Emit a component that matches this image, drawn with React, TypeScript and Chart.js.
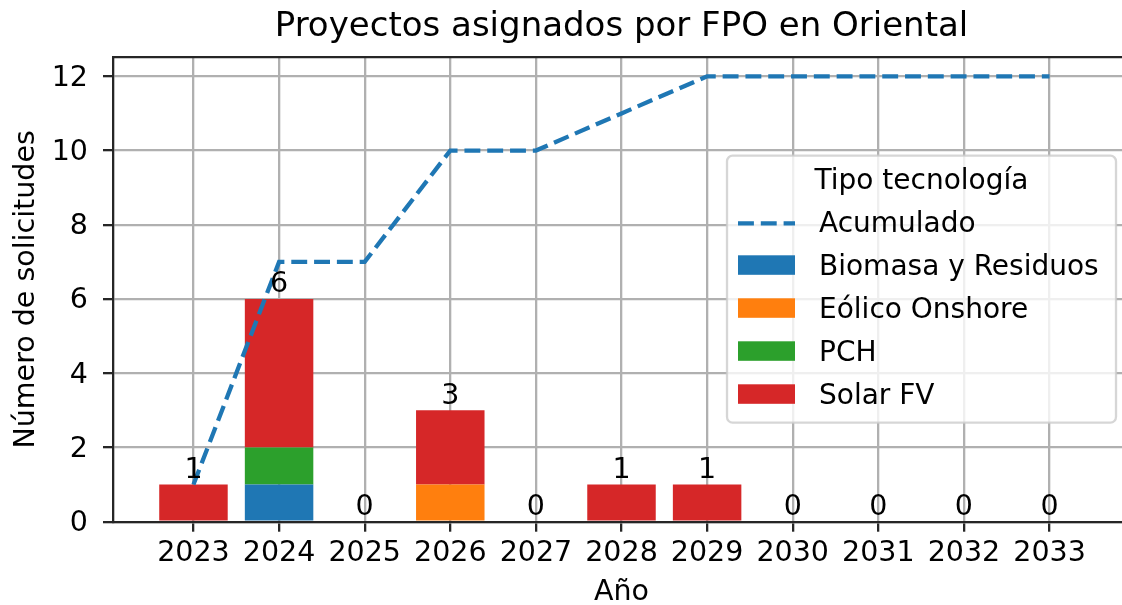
import React, { useEffect, useRef } from "react";
import { Chart, registerables } from "chart.js";

Chart.register(...registerables);

// ---- data ----
const years = [2023, 2024, 2025, 2026, 2027, 2028, 2029, 2030, 2031, 2032, 2033];
const biomasa = [0, 1, 0, 0, 0, 0, 0, 0, 0, 0, 0];
const eolico = [0, 0, 0, 1, 0, 0, 0, 0, 0, 0, 0];
const pch = [0, 1, 0, 0, 0, 0, 0, 0, 0, 0, 0];
const solar = [1, 4, 0, 2, 0, 1, 1, 0, 0, 0, 0];
const acumulado = [1, 7, 7, 10, 10, 11, 12, 12, 12, 12, 12];
const yTicks = [0, 2, 4, 6, 8, 10, 12];

const chartTitle = "Proyectos asignados por FPO en Oriental";
const xTitle = "Año";
const yTitle = "Número de solicitudes";
const legendTitle = "Tipo tecnología";
const lineName = "Acumulado";
const barNames = ["Biomasa y Residuos", "Eólico Onshore", "PCH", "Solar FV"];
const barSeries = [biomasa, eolico, pch, solar];
const barColors = ["#1f77b4", "#ff7f0e", "#2ca02c", "#d62728"];
const lineColor = "#1f77b4";

// ---- styling ----
const FONT = "'DejaVu Sans', sans-serif";
const W = 1145;
const H = 610;
const TICK = 28.5;
const SPINE = "#262626";
const GRID = "#b0b0b0";
const LW = 2.3;

export default function App() {
  const ref = useRef<HTMLCanvasElement | null>(null);

  useEffect(() => {
    const canvas = ref.current;
    if (!canvas) return;

    const datasets: any[] = [
      {
        type: "line",
        label: lineName,
        data: years.map((x, i) => ({ x, y: acumulado[i] })),
        borderColor: lineColor,
        backgroundColor: lineColor,
        borderWidth: 4.3,
        borderDash: [15.9, 6.9],
        pointRadius: 0,
        fill: false,
        tension: 0,
        stack: "acc",
        xAxisID: "x",
        yAxisID: "y",
      },
      ...barSeries.map((arr, k) => ({
        type: "bar",
        label: barNames[k],
        data: years.map((x, i) => ({ x, y: arr[i] })),
        backgroundColor: barColors[k],
        borderWidth: 0,
        barPercentage: 0.8,
        categoryPercentage: 1.0,
        stack: "tec",
        xAxisID: "x",
        yAxisID: "y",
      })),
    ];

    const lateDraw = {
      id: "lateDraw",
      beforeDatasetDraw(chart: any, args: any) {
        if (args.meta.type === "line" && !chart.$late) return false;
        return true;
      },
      afterDraw(chart: any) {
        const ctx = chart.ctx as CanvasRenderingContext2D;
        const area = chart.chartArea;
        const yScale = chart.scales.y;

        // line above grid
        chart.$late = true;
        ctx.save();
        ctx.beginPath();
        ctx.rect(area.left, area.top, area.right - area.left, area.bottom - area.top);
        ctx.clip();
        chart.getDatasetMeta(0).controller.draw();
        ctx.restore();
        chart.$late = false;

        // bar labels (totals)
        const lastBar = chart.getDatasetMeta(datasets.length - 1);
        ctx.save();
        ctx.font = `${TICK}px ${FONT}`;
        ctx.fillStyle = "#000";
        ctx.textAlign = "center";
        ctx.textBaseline = "alphabetic";
        years.forEach((_, i) => {
          const total = barSeries.reduce((s, a) => s + a[i], 0);
          const x = lastBar.data[i].x;
          const y = yScale.getPixelForValue(total) - 6.7;
          ctx.fillText(String(total), x, y);
        });
        ctx.restore();

        // legend
        const fx = area.right - 403;
        const fy = area.top + 98.7;
        const fw = 389;
        const fh = 267;
        ctx.save();
        ctx.beginPath();
        (ctx as any).roundRect(fx, fy, fw, fh, 5.6);
        ctx.fillStyle = "rgba(255,255,255,0.8)";
        ctx.fill();
        ctx.strokeStyle = "rgba(204,204,204,0.8)";
        ctx.lineWidth = LW;
        ctx.stroke();

        ctx.font = `28px ${FONT}`;
        ctx.fillStyle = "#000";
        ctx.textBaseline = "alphabetic";
        ctx.textAlign = "center";
        const row = 43;
        const base0 = fy + 33.1;
        ctx.fillText(legendTitle, fx + fw / 2, base0);
        ctx.textAlign = "left";
        const hx = fx + 11;
        const hw = 57;
        const tx = fx + 92;
        chart.data.datasets.forEach((ds: any, k: number) => {
          const b = base0 + row * (k + 1);
          if (ds.type === "line") {
            ctx.save();
            ctx.strokeStyle = ds.borderColor;
            ctx.lineWidth = ds.borderWidth;
            ctx.setLineDash(ds.borderDash);
            ctx.beginPath();
            ctx.moveTo(hx, b - 8.5);
            ctx.lineTo(hx + hw, b - 8.5);
            ctx.stroke();
            ctx.restore();
          } else {
            ctx.fillStyle = ds.backgroundColor;
            ctx.fillRect(hx, b - 19.5, hw, 19.5);
          }
          ctx.fillStyle = "#000";
          ctx.fillText(ds.label, tx, b);
        });
        ctx.restore();
      },
    };

    const tickFont = { family: FONT, size: TICK };

    const chart = new Chart(canvas, {
      type: "bar",
      data: { datasets },
      options: {
        animation: false,
        responsive: false,
        devicePixelRatio: 1,
        layout: { padding: { left: 0, right: 15, top: 0, bottom: 0 } },
        plugins: {
          legend: { display: false },
          tooltip: { enabled: false },
          title: {
            display: true,
            text: chartTitle,
            fullSize: false,
            color: "#000",
            font: { family: FONT, size: 34, weight: "normal" },
            padding: { top: 7.2, bottom: 0 },
          },
        },
        scales: {
          x: {
            type: "linear",
            stacked: true,
            offset: false,
            min: 2022.06,
            max: 2033.94,
            z: 1,
            afterBuildTicks: (s: any) => {
              s.ticks = years.map((v) => ({ value: v }));
            },
            afterFit: (s: any) => {
              s.height = H - 521.7;
            },
            ticks: {
              callback: (v: any) => String(v),
              font: tickFont,
              color: "#000",
              padding: 5.2,
              maxRotation: 0,
              autoSkip: false,
            },
            grid: { offset: false, color: GRID, lineWidth: LW, tickColor: SPINE, tickWidth: LW, tickLength: 10 },
            border: { color: SPINE, width: LW },
            title: {
              display: true,
              text: xTitle,
              color: "#000",
              font: tickFont,
              padding: { top: 0, bottom: 0 },
            },
          },
          x2: {
            type: "linear",
            position: "top",
            z: 1,
            ticks: { display: false },
            grid: { display: false, drawTicks: false },
            border: { color: SPINE, width: LW },
            afterFit: (s: any) => {
              s.height = 9;
            },
          },
          y: {
            type: "linear",
            stacked: true,
            min: 0,
            max: 12.52,
            z: 1,
            afterBuildTicks: (s: any) => {
              s.ticks = yTicks.map((v) => ({ value: v }));
            },
            afterFit: (s: any) => {
              s.width = 113;
            },
            ticks: {
              callback: (v: any) => String(v),
              font: tickFont,
              color: "#000",
              padding: 15,
              labelOffset: 2,
            },
            grid: { color: GRID, lineWidth: LW, tickColor: SPINE, tickWidth: LW, tickLength: 10 },
            border: { color: SPINE, width: LW },
            title: {
              display: true,
              text: yTitle,
              color: "#000",
              font: tickFont,
              padding: { top: 9.4, bottom: 0 },
            },
          },
        },
      } as any,
      plugins: [lateDraw],
    });

    return () => chart.destroy();
  }, []);

  return (
    <div
      style={{
        position: "fixed",
        left: 0,
        top: 0,
        width: 1122,
        height: 605,
        overflow: "hidden",
        background: "#fff",
      }}
    >
      <canvas ref={ref} width={W} height={H} style={{ width: W, height: H, display: "block" }} />
    </div>
  );
}
